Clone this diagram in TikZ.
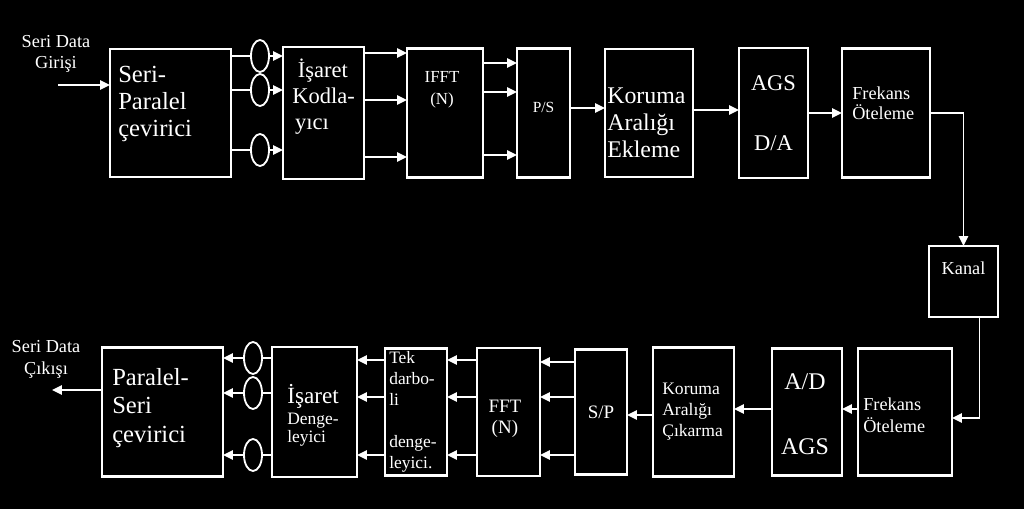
\documentclass[tikz,border=0pt]{standalone}
\usepackage{fontspec}
\setmainfont{Liberation Serif}
\usetikzlibrary{positioning, shapes.geometric, arrows.meta}
\newcommand{\txtsize}[2]{\fontsize{#1}{#2}\selectfont}
\tikzset{
  blk/.style={draw=white, line width=1.5pt, fill=black, inner sep=0pt, outer sep=0pt},
  txt/.style={text=white, inner sep=0pt, align=left},
  flow/.style={white, line width=1.3pt, -{Triangle[length=7pt, width=6.5pt]}},
  wire/.style={white, line width=1.3pt},
  ring/.style={ellipse, draw=white, line width=1.3pt, minimum width=0.45cm, minimum height=0.8cm, inner sep=0pt, outer sep=0pt}
}
\begin{document}
\begin{tikzpicture}
        \useasboundingbox[fill=black] (0,0) rectangle (25.6,12.725);
        % Verici (upper row)
        \node[blk, minimum width=3.025cm, minimum height=3.2cm] (ser) at (4.2625,9.9) {};
        \node[blk, minimum width=2.025cm, minimum height=3.3cm, right=1.3cm of ser] (kod) {};
        \node[blk, minimum width=1.9cm, minimum height=3.225cm, right=1.075cm of kod] (ifft) {};
        \node[blk, minimum width=1.325cm, minimum height=3.225cm, right=0.85cm of ifft] (ps) {};
        \node[blk, minimum width=2.2cm, minimum height=3.2cm, right=0.875cm of ps] (kor) {};
        \node[blk, minimum width=1.725cm, minimum height=3.25cm, right=1.15cm of kor] (ags) {};
        \node[blk, minimum width=2.2cm, minimum height=3.225cm, right=0.85cm of ags] (frek) {};
        % Kanal
        \node[blk, minimum width=1.725cm, minimum height=1.775cm] (kanal) at (24.0875,5.6875) {};
        % Alici (lower row)
        \node[blk, minimum width=2.35cm, minimum height=3.175cm] (frek2) at (22.625,2.425) {};
        \node[blk, minimum width=1.75cm, minimum height=3.175cm, left=0.4cm of frek2] (ad) {};
        \node[blk, minimum width=2.025cm, minimum height=3.225cm, left=0.95cm of ad] (kor2) {};
        \node[blk, minimum width=1.3cm, minimum height=3.125cm, left=0.65cm of kor2] (sp) {};
        \node[blk, minimum width=1.575cm, minimum height=3.2cm, left=0.875cm of sp] (fft) {};
        \node[blk, minimum width=1.55cm, minimum height=3.175cm, left=0.75cm of fft] (tek) {};
        \node[blk, minimum width=2.125cm, minimum height=3.25cm, left=0.7cm of tek] (isd) {};
        \node[blk, minimum width=3.025cm, minimum height=3.225cm, left=1.225cm of isd] (par) {};
        % Texts
        \node[txt, font=\txtsize{13}{15.5}, align=center] (in-t) at (1.4,11.375) {Seri Data\\Girişi};
        \node[txt, font=\txtsize{17.5}{19.5}, anchor=west] (ser-t) at ([xshift=0.2cm, yshift=0.225cm]ser.west) {Seri-\\Paralel\\çevirici};
        \node[txt, font=\txtsize{16}{18.5}, anchor=west] (kod-t) at ([xshift=0.225cm, yshift=0.41cm]kod.west) {\hspace{4pt}İşaret\\Kodla-\\\hspace{2pt}yıcı};
        \node[txt, font=\txtsize{12}{15.5}, align=center] (ifft-t) at ([xshift=-0.075cm, yshift=0.59cm]ifft.center) {IFFT\\(N)};
        \node[txt, font=\txtsize{11}{13}] (ps-t) at ([yshift=0.14cm]ps.center) {P/S};
        \node[txt, font=\txtsize{17}{19}, anchor=west] (kor-t) at ([xshift=0.05cm, yshift=-0.24cm]kor.west) {Koruma\\Aralığı\\Ekleme};
        \node[txt, font=\txtsize{16}{42.5}, align=center] (ags-t) at (ags.center) {AGS\\D/A};
        \node[txt, font=\txtsize{13}{14}, anchor=west] (frek-t) at ([xshift=0.25cm, yshift=0.24cm]frek.west) {Frekans\\Öteleme};
        \node[txt, font=\txtsize{13}{15}] (kanal-t) at ([yshift=0.34cm]kanal.center) {Kanal};
        \node[txt, font=\txtsize{13}{15.5}, anchor=west] (frek2-t) at ([xshift=0.125cm, yshift=-0.09cm]frek2.west) {Frekans\\Öteleme};
        \node[txt, font=\txtsize{17}{46}, align=center] (ad-t) at ([xshift=-0.05cm, yshift=-0.05cm]ad.center) {A/D\\AGS};
        \node[txt, font=\txtsize{12.5}{15}, anchor=west] (kor2-t) at ([xshift=0.225cm]kor2.west) {Koruma\\Aralığı\\Çıkarma};
        \node[txt, font=\txtsize{13.5}{15}] (sp-t) at (sp.center) {S/P};
        \node[txt, font=\txtsize{13.5}{15}, align=center] (fft-t) at ([xshift=-0.09cm, yshift=-0.16cm]fft.center) {FFT\\(N)};
        \node[txt, font=\txtsize{12.4}{15}, anchor=west] (tek-t) at ([xshift=0.1cm]tek.west) {Tek\\darbo-\\li\\[15pt]denge-\\leyici.};
        \node[txt, font=\txtsize{12.4}{13}, anchor=west] (isd-t) at ([xshift=0.375cm, yshift=-0.09cm]isd.west) {{\txtsize{16.5}{18}İşaret}\\[2pt]Denge-\\leyici};
        \node[txt, font=\txtsize{17.5}{20}, anchor=west] (par-t) at ([xshift=0.25cm, yshift=0.1cm]par.west) {Paralel-\\Seri\\çevirici};
        \node[txt, font=\txtsize{13}{15.5}, align=center] (out-t) at (1.15,3.75) {Seri Data\\Çıkışı};
        % Connectors, upper row
        \coordinate (in) at (1.45,10.6);
        \draw[flow] (in) -- (in -| ser.west);
        \foreach \dy [count=\i] in {1.425,0.575,-0.925}{
          \node[ring] (rt\i) at ([xshift=0.725cm, yshift=\dy cm]ser.east) {};
          \draw[wire] (rt\i -| ser.east) -- (rt\i.west);
          \draw[flow] (rt\i.east) -- (rt\i -| kod.west);
        }
        \foreach \dy in {1.5,0.325,-1.1}
          \draw[flow] ([yshift=\dy cm]kod.east) -- ([yshift=\dy cm]ifft.west);
        \foreach \dy in {1.25,0.525,-1.05}
          \draw[flow] ([yshift=\dy cm]ifft.east) -- ([yshift=\dy cm]ps.west);
        \draw[flow] ([yshift=0.125cm]ps.east) -- ([yshift=0.125cm]kor.west);
        \draw[flow] ([yshift=0.075cm]kor.east) -- ([yshift=0.075cm]ags.west);
        \draw[flow] (ags.east) -- (frek.west);
        \draw[flow] (frek.east) -| (kanal.north);
        \draw[flow] ([xshift=0.4cm]kanal.south) |- ([yshift=-0.15cm]frek2.east);
        % Connectors, lower row
        \draw[flow] ([yshift=0.075cm]frek2.west) -- ([yshift=0.075cm]ad.east);
        \draw[flow] ([yshift=0.075cm]ad.west) -- ([yshift=0.075cm]kor2.east);
        \draw[flow] ([yshift=-0.075cm]kor2.west) -- ([yshift=-0.075cm]sp.east);
        \foreach \dy in {1.25,0.375,-1.075}
          \draw[flow] ([yshift=\dy cm]sp.west) -- ([yshift=\dy cm]fft.east);
        \foreach \dy in {1.3,0.375,-1.075}{
          \draw[flow] ([yshift=\dy cm]fft.west) -- ([yshift=\dy cm]tek.east);
          \draw[flow] ([yshift=\dy cm]tek.west) -- ([yshift=\dy cm]isd.east);
        }
        \foreach \dy [count=\i] in {1.35,0.475,-1.075}{
          \node[ring] (rb\i) at ([xshift=0.75cm, yshift=\dy cm]par.east) {};
          \draw[wire] (rb\i -| isd.west) -- (rb\i.east);
          \draw[flow] (rb\i.west) -- (rb\i -| par.east);
        }
        \coordinate (out) at (1.3,2.975);
        \draw[flow] (out -| par.west) -- (out);
\end{tikzpicture}
\end{document}
